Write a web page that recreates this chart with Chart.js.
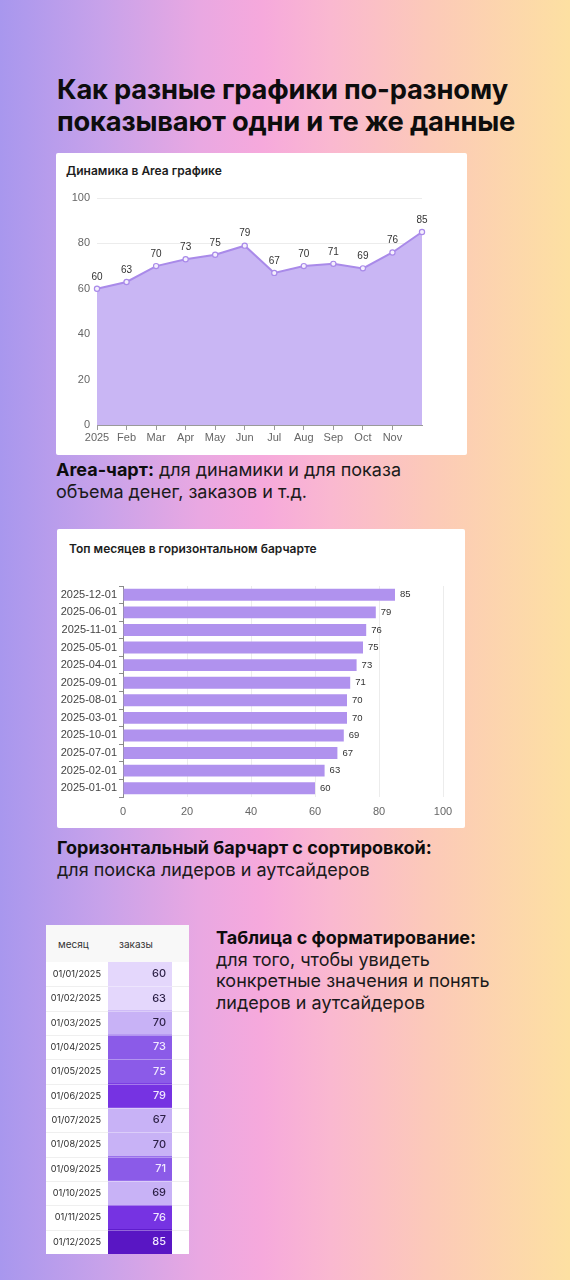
<!DOCTYPE html>
<html><head><meta charset="utf-8">
<script src="https://cdn.jsdelivr.net/npm/chart.js@4.4.1/dist/chart.umd.min.js"></script>
<style>
html,body{margin:0;padding:0}
body{width:570px;height:1280px;position:relative;overflow:hidden;
 background:linear-gradient(90deg,#a897ee 0%,#c8a2ea 18%,#e9a8e2 35%,#f6a9dc 46%,#fab8d0 58%,#fcc9b9 75%,#fde0a2 100%);
 font-family:Inter,"Noto Sans",sans-serif;color:#111}
h1{position:absolute;left:57px;top:74px;margin:0;font-size:27.3px;line-height:32px;font-weight:700;color:#0d0d0d;letter-spacing:-0.2px}
.card{position:absolute;background:#fff;border-radius:2px}
.ctitle{position:absolute;font-size:12px;font-weight:600;color:#1d1d1d;white-space:nowrap}
.cap{position:absolute;font-size:18px;line-height:22px;color:#1a1a1a;white-space:nowrap}
.cap b{font-weight:700;color:#0d0d0d}
canvas{position:absolute;left:0}
.th{position:absolute;font-size:10px;color:#333;top:13px}
</style></head>
<body>
<h1>Как разные графики по-разному<br>показывают одни и те же данные</h1>

<div class="card" style="left:56px;top:153px;width:411px;height:302px">
  <div class="ctitle" style="left:10px;top:10px">Динамика в Area графике</div>
  <canvas id="area" style="top:0" width="411" height="302"></canvas>
</div>
<div class="cap" style="left:56px;top:459px"><b>Area-чарт:</b> для динамики и для показа<br>объема денег, заказов и т.д.</div>

<div class="card" style="left:57px;top:529px;width:408px;height:299px">
  <div class="ctitle" style="left:12px;top:12px">Топ месяцев в горизонтальном барчарте</div>
  <canvas id="bars" style="top:0" width="408" height="299"></canvas>
</div>
<div class="cap" style="left:57px;top:837px"><b>Горизонтальный барчарт с сортировкой:</b><br>для поиска лидеров и аутсайдеров</div>

<div class="card" style="left:46px;top:925px;width:143px;height:329px;border-radius:0">
  <div style="position:absolute;left:0;top:0;width:143px;height:37px;background:#f8f8f8"></div>
  <div class="th" style="left:12px">месяц</div>
  <div class="th" style="left:73px">заказы</div>
  <canvas id="table" style="top:37px" width="143" height="292"></canvas>
</div>
<div class="cap" style="left:216px;top:927px;line-height:21.5px"><b>Таблица с форматирование:</b><br>для того, чтобы увидеть<br>конкретные значения и понять<br>лидеров и аутсайдеров</div>

<script>
// ---- data ----
const months = ['2025','Feb','Mar','Apr','May','Jun','Jul','Aug','Sep','Oct','Nov',''];
const orders = [60,63,70,73,75,79,67,70,71,69,76,85];

const barLabels = ['2025-12-01','2025-06-01','2025-11-01','2025-05-01','2025-04-01','2025-09-01','2025-08-01','2025-03-01','2025-10-01','2025-07-01','2025-02-01','2025-01-01'];
const barValues = [85,79,76,75,73,71,70,70,69,67,63,60];

const tableDates = ['01/01/2025','01/02/2025','01/03/2025','01/04/2025','01/05/2025','01/06/2025','01/07/2025','01/08/2025','01/09/2025','01/10/2025','01/11/2025','01/12/2025'];
const tableValues = [60,63,70,73,75,79,67,70,71,69,76,85];

const colorThresholds = [65,71,76,80];
const colorSteps = ['#e4d7fc','#c8b2f6','#8b5be8','#7633e2','#5916c4'];

const chartFont = '"Liberation Sans", Arial, sans-serif';
Chart.defaults.font.family = chartFont;
Chart.defaults.animation = false;
Chart.defaults.responsive = false;
Chart.defaults.plugins.legend.display = false;
Chart.defaults.plugins.tooltip.enabled = false;

function stepIndex(v){let i=0;while(i<colorThresholds.length && v>=colorThresholds[i]) i++;return i;}

// ---- area chart ----
new Chart(document.getElementById('area'), {
  type:'line',
  data:{labels:months, datasets:[{data:orders, fill:'origin', backgroundColor:'#c9b6f4',
    borderColor:'#a98ae9', borderWidth:2, tension:0, pointRadius:2.6,
    pointBackgroundColor:'#f4effd', pointBorderColor:'#a98ae9', pointBorderWidth:1.2}]},
  options:{
    layout:{padding:{top:45,right:45,left:0,bottom:0}},
    scales:{
      x:{offset:false, grid:{drawOnChartArea:false, drawTicks:true, tickLength:5, color:(c)=>c.tick && c.tick.label==='' ? 'rgba(0,0,0,0)' : '#9a9a9a'},
         border:{color:'#9a9a9a'},
         ticks:{autoSkip:false, maxRotation:0, padding:1, color:'#666', font:{size:11}},
         afterFit:s=>{s.height=30;}},
      y:{min:0,max:100, grid:{color:'#ececec', drawTicks:false}, border:{display:false},
         ticks:{stepSize:20, padding:7, color:'#666', font:{size:11}},
         afterFit:s=>{s.width=41;}}
    }
  },
  plugins:[{id:'lbl', afterDatasetsDraw(c){
    const ctx=c.ctx, meta=c.getDatasetMeta(0);
    ctx.save(); ctx.font='10px '+chartFont; ctx.fillStyle='#333'; ctx.textAlign='center'; ctx.textBaseline='middle';
    meta.data.forEach((p,i)=>ctx.fillText(orders[i], p.x, p.y-12));
    ctx.restore();
  }}]
});

// ---- horizontal bar chart ----
new Chart(document.getElementById('bars'), {
  type:'bar',
  data:{labels:barLabels, datasets:[{data:barValues, backgroundColor:'#b092ee', barPercentage:0.68, categoryPercentage:1}]},
  options:{
    indexAxis:'y',
    layout:{padding:{top:57,right:22,left:0,bottom:0}},
    scales:{
      x:{min:0,max:100, grid:{color:'#ececec', drawTicks:false}, border:{display:false},
         ticks:{stepSize:20, padding:8, color:'#666', font:{size:11}},
         afterFit:s=>{s.height=31;}},
      y:{grid:{drawOnChartArea:false, drawTicks:true, tickLength:4, color:'#8a8a8a'},
         border:{color:'#8a8a8a'},
         ticks:{autoSkip:false, padding:2, color:'#444', font:{size:11}},
         afterFit:s=>{s.width=66;}}
    }
  },
  plugins:[{id:'blbl', afterDatasetsDraw(c){
    const ctx=c.ctx, meta=c.getDatasetMeta(0);
    ctx.save(); ctx.font='9.5px '+chartFont; ctx.fillStyle='#333'; ctx.textAlign='left'; ctx.textBaseline='middle';
    meta.data.forEach((b,i)=>ctx.fillText(barValues[i], b.x+5, b.y));
    ctx.restore();
  }}]
});

// ---- formatted table ----
new Chart(document.getElementById('table'), {
  type:'bar',
  data:{labels:tableDates, datasets:[{data:tableValues.map(()=>[0,1]),
    backgroundColor:tableValues.map(v=>colorSteps[stepIndex(v)]), barPercentage:1, categoryPercentage:1}]},
  options:{
    indexAxis:'y',
    layout:{padding:{top:0,right:17,left:62,bottom:0}},
    scales:{
      x:{min:0,max:1,display:false},
      y:{display:false}
    }
  },
  plugins:[{id:'rows',
    beforeDatasetsDraw(c){
      const ctx=c.ctx, y=c.scales.y;
      ctx.save(); ctx.strokeStyle='#efefef'; ctx.lineWidth=1;
      for(let i=1;i<tableDates.length;i++){const py=Math.round((y.getPixelForValue(i-1)+y.getPixelForValue(i))/2)+0.5;
        ctx.beginPath(); ctx.moveTo(0,py); ctx.lineTo(c.width,py); ctx.stroke();}
      ctx.font='9.2px Inter'; ctx.fillStyle='#2a2a2a'; ctx.textAlign='right'; ctx.textBaseline='middle';
      tableDates.forEach((d,i)=>ctx.fillText(d, c.chartArea.left-7, y.getPixelForValue(i)));
      ctx.restore();
    },
    afterDatasetsDraw(c){
      const ctx=c.ctx, y=c.scales.y, a=c.chartArea, meta=c.getDatasetMeta(0);
      ctx.save(); ctx.strokeStyle='rgba(255,255,255,0.35)'; ctx.lineWidth=1;
      for(let i=1;i<tableDates.length;i++){const py=Math.round((y.getPixelForValue(i-1)+y.getPixelForValue(i))/2)+0.5;
        ctx.beginPath(); ctx.moveTo(a.left,py); ctx.lineTo(a.right,py); ctx.stroke();}
      ctx.font='500 11px Inter'; ctx.textAlign='right'; ctx.textBaseline='middle';
      meta.data.forEach((b,i)=>{const v=tableValues[i];
        ctx.fillStyle = stepIndex(v)>=2 ? '#f1e9ff' : '#2b1f45';
        ctx.fillText(v, a.right-6, b.y);});
      ctx.restore();
    }
  }]
});
</script>
</body></html>
